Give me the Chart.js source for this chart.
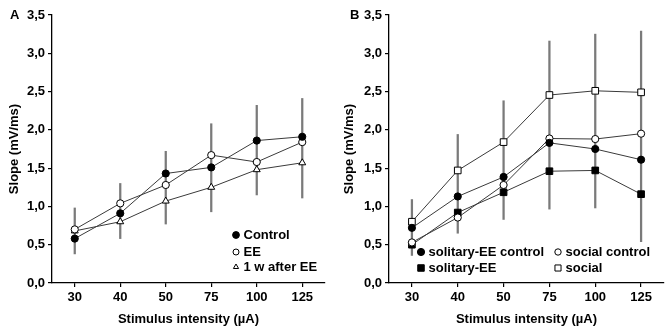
<!DOCTYPE html>
<html>
<head>
<meta charset="utf-8">
<script src="https://cdn.jsdelivr.net/npm/chart.js@4.4.1/dist/chart.umd.min.js"></script>
<style>
  body { margin: 0; background: #fff; }
  .row { display: flex; width: 670px; height: 332px; }
  canvas { display: block; }
</style>
</head>
<body>
<div class="row">
  <canvas id="panel-a" width="335" height="332"></canvas>
  <canvas id="panel-b" width="335" height="332"></canvas>
</div>
<script>
// Slope vs stimulus intensity, two panels

const categories = ['30', '40', '50', '75', '100', '125'];
const yTickLabels = ['0,0', '0,5', '1,0', '1,5', '2,0', '2,5', '3,0', '3,5'];

// Panel A
const controlA = [0.58, 0.91, 1.43, 1.51, 1.86, 1.91];
const eeA = [0.70, 1.04, 1.28, 1.67, 1.58, 1.84];
const afterEeA = [0.68, 0.80, 1.07, 1.25, 1.48, 1.57];
const errLowA = [0.38, 0.58, 0.77, 0.93, 1.15, 1.11];
const errHighA = [0.98, 1.30, 1.72, 2.08, 2.32, 2.41];

// Panel B
const solitaryCtrlB = [0.72, 1.13, 1.385, 1.83, 1.75, 1.61];
const socialCtrlB = [0.53, 0.855, 1.28, 1.887, 1.88, 1.95];
const solitaryEeB = [0.50, 0.92, 1.185, 1.46, 1.47, 1.16];
const socialB = [0.80, 1.47, 1.84, 2.455, 2.51, 2.49];
const errLowB = [0.36, 0.65, 0.83, 0.965, 0.98, 0.54];
const errHighB = [1.09, 1.94, 2.38, 3.16, 3.25, 3.29];

const FONT_FAMILY = '"Liberation Sans", Arial, sans-serif';
const BOLD_FONT = { family: FONT_FAMILY, size: 13, weight: 'bold' };

function lineSet(label, data, style, filled, radius) {
    return {
        type: 'line',
        label: label,
        data: data,
        order: 1,
        borderColor: '#3a3a3a',
        borderWidth: 1,
        tension: 0,
        pointStyle: style,
        pointRadius: radius,
        pointBackgroundColor: filled ? '#000' : '#fff',
        pointBorderColor: '#000',
        pointBorderWidth: 1,
        fill: false
    };
}

function errorSet(low, high) {
    return {
        type: 'bar',
        label: 'SD',
        data: low.map((lo, i) => [lo, high[i]]),
        order: 2,
        backgroundColor: '#7a7a7a',
        barThickness: 1.6
    };
}

function makeScales(yWidth) {
    return {
        x: {
            type: 'category',
            offset: true,
            grid: { offset: false, drawOnChartArea: false, drawTicks: true, tickLength: 4, color: '#000', lineWidth: 1.2 },
            border: { display: true, color: '#000', width: 1.3 },
            ticks: { color: '#000', font: BOLD_FONT, padding: 3, maxRotation: 0 },
            title: { display: true, text: 'Stimulus intensity (µA)', color: '#000', font: BOLD_FONT, padding: { top: 0, bottom: 5 } },
            afterFit: (s) => { s.height = 49; }
        },
        y: {
            min: 0,
            max: 3.5,
            grid: { drawOnChartArea: false, drawTicks: true, tickLength: 4, color: '#000', lineWidth: 1.2 },
            border: { display: true, color: '#000', width: 1.3 },
            ticks: {
                stepSize: 0.5,
                color: '#000',
                font: BOLD_FONT,
                padding: 3,
                callback: (v) => yTickLabels[Math.round(v / 0.5)]
            },
            title: { display: true, text: 'Slope (mV/ms)', color: '#000', font: BOLD_FONT, padding: { top: 7, bottom: 0 } },
            afterFit: (s) => { s.width = yWidth; }
        }
    };
}

function drawMarker(ctx, style, filled, x, y, r) {
    ctx.save();
    ctx.beginPath();
    if (style === 'circle') {
        ctx.arc(x, y, r, 0, Math.PI * 2);
    } else if (style === 'rect') {
        const h = Math.SQRT1_2 * r;
        ctx.rect(x - h, y - h, 2 * h, 2 * h);
    } else if (style === 'triangle') {
        for (let k = 0; k < 3; k++) {
            const a = k * 2 * Math.PI / 3;
            const px = x + Math.sin(a) * r;
            const py = y - Math.cos(a) * r;
            if (k === 0) ctx.moveTo(px, py); else ctx.lineTo(px, py);
        }
        ctx.closePath();
    }
    ctx.fillStyle = filled ? '#000' : '#fff';
    ctx.fill();
    ctx.lineWidth = 1;
    ctx.strokeStyle = '#000';
    ctx.stroke();
    ctx.restore();
}

// panel letter + in-plot legend
const panelLegend = {
    id: 'panelLegend',
    afterDraw(chart, args, opts) {
        const ctx = chart.ctx;
        ctx.save();
        ctx.font = 'bold 13px ' + FONT_FAMILY;
        ctx.fillStyle = '#000';
        ctx.textBaseline = 'middle';
        ctx.textAlign = 'left';
        ctx.fillText(opts.letter, opts.letterX, 15);

        opts.items.forEach(item => {
            const ds = chart.data.datasets[item.ds];
            const filled = ds.pointBackgroundColor === '#000';
            drawMarker(ctx, ds.pointStyle, filled, item.x, item.y, item.r);
            ctx.fillStyle = '#000';
            ctx.fillText(ds.label, item.x + 7.5, item.y + 0.5);
        });
        ctx.restore();
    }
};

const chartA = new Chart(document.getElementById('panel-a'), {
    type: 'line',
    data: {
        labels: categories,
        datasets: [
            lineSet('Control', controlA, 'circle', true, 3.6),
            lineSet('EE', eeA, 'circle', false, 3.6),
            lineSet('1 w after EE', afterEeA, 'triangle', false, 4),
            errorSet(errLowA, errHighA)
        ]
    },
    options: {
        responsive: false,
        animation: false,
        devicePixelRatio: 1,
        layout: { padding: { top: 15, right: 10, left: 0, bottom: 0 } },
        plugins: {
            legend: { display: false },
            tooltip: { enabled: false },
            panelLegend: {
                letter: 'A',
                letterX: 10,
                items: [
                    { ds: 0, x: 236, y: 235, r: 3.4 },
                    { ds: 1, x: 236, y: 252, r: 3 },
                    { ds: 2, x: 236, y: 267, r: 3 }
                ]
            }
        },
        scales: makeScales(52)
    },
    plugins: [panelLegend]
});

const chartB = new Chart(document.getElementById('panel-b'), {
    type: 'line',
    data: {
        labels: categories,
        datasets: [
            lineSet('solitary-EE control', solitaryCtrlB, 'circle', true, 3.6),
            lineSet('social control', socialCtrlB, 'circle', false, 3.6),
            lineSet('solitary-EE', solitaryEeB, 'rect', true, 4.7),
            lineSet('social', socialB, 'rect', false, 4.7),
            errorSet(errLowB, errHighB)
        ]
    },
    options: {
        responsive: false,
        animation: false,
        devicePixelRatio: 1,
        layout: { padding: { top: 15, right: 6, left: 0, bottom: 0 } },
        plugins: {
            legend: { display: false },
            tooltip: { enabled: false },
            panelLegend: {
                letter: 'B',
                letterX: 15,
                items: [
                    { ds: 0, x: 86, y: 252, r: 3.6 },
                    { ds: 1, x: 223, y: 252, r: 3.2 },
                    { ds: 2, x: 86, y: 268, r: 4.6 },
                    { ds: 3, x: 223, y: 268, r: 4.3 }
                ]
            }
        },
        scales: makeScales(54)
    },
    plugins: [panelLegend]
});
</script>
</body>
</html>
